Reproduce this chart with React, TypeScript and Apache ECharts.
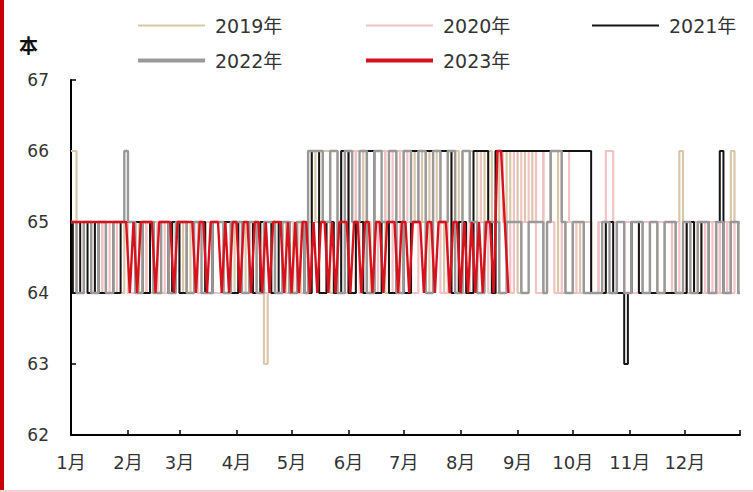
import React, { useEffect, useRef } from "react";
import * as echarts from "echarts";

// Values sampled every 2 days (day-of-year 0, 2, 4, ...)
const y2019 = [
  66, 66, 64, 64, 65, 65, 65, 64, 64, 65,
  65, 65, 64, 64, 64, 65, 65, 65, 65, 64,
  64, 65, 65, 65, 64, 64, 64, 65, 65, 65,
  65, 64, 64, 65, 65, 65, 65, 64, 64, 65,
  65, 65, 64, 64, 64, 65, 65, 65, 64, 64,
  65, 65, 64, 63, 64, 64, 65, 65, 65, 64,
  64, 65, 65, 64, 64, 66, 66, 65, 65, 66,
  66, 64, 64, 65, 66, 66, 64, 64, 66, 66,
  65, 65, 64, 66, 66, 66, 64, 65, 65, 66,
  66, 64, 64, 65, 66, 66, 65, 64, 66, 66,
  65, 65, 64, 64, 66, 66, 65, 64, 64, 66,
  66, 65, 65, 66, 66, 64, 64, 66, 66, 65,
  66, 66, 64, 65, 66, 66, 65, 66, 66, 64,
  65, 66, 66, 64, 64, 65, 65, 64, 64, 65,
  65, 65, 64, 64, 65, 65, 64, 64, 64, 65,
  65, 64, 64, 65, 65, 65, 64, 64, 65, 65,
  64, 64, 65, 65, 64, 65, 66, 65, 64, 64,
  65, 65, 64, 64, 65, 65, 65, 64, 64, 65,
  66, 65, 64,
];
const y2020 = [
  65, 65, 64, 64, 65, 65, 64, 64, 64, 65,
  65, 64, 64, 65, 65, 65, 64, 64, 65, 65,
  65, 64, 64, 64, 65, 65, 64, 64, 65, 65,
  64, 64, 65, 65, 65, 64, 64, 65, 65, 64,
  64, 64, 65, 65, 64, 64, 65, 65, 65, 64,
  64, 65, 65, 64, 64, 64, 65, 65, 64, 64,
  65, 65, 64, 64, 65, 65, 66, 66, 64, 64,
  65, 66, 66, 65, 64, 64, 66, 66, 65, 64,
  64, 66, 66, 64, 65, 65, 66, 66, 64, 64,
  66, 66, 65, 64, 64, 66, 66, 65, 65, 66,
  66, 64, 64, 66, 66, 65, 64, 66, 66, 64,
  65, 65, 66, 66, 64, 64, 66, 66, 65, 65,
  64, 66, 66, 65, 65, 66, 66, 64, 64, 66,
  66, 65, 64, 64, 66, 66, 65, 65, 64, 64,
  65, 65, 64, 64, 65, 65, 66, 66, 65, 64,
  64, 65, 65, 64, 64, 65, 65, 65, 64, 64,
  65, 65, 64, 64, 65, 65, 64, 64, 65, 65,
  65, 64, 64, 65, 65, 64, 64, 65, 65, 64,
  64, 65, 65,
];
const y2021 = [
  65, 64, 64, 65, 65, 64, 64, 65, 64, 64,
  65, 65, 64, 64, 65, 65, 65, 65, 65, 65,
  64, 64, 65, 64, 64, 65, 65, 64, 65, 65,
  64, 64, 65, 65, 65, 65, 65, 64, 64, 65,
  65, 65, 65, 65, 64, 64, 65, 65, 65, 65,
  64, 64, 65, 65, 65, 64, 64, 65, 65, 65,
  64, 64, 65, 65, 64, 64, 66, 66, 64, 64,
  65, 65, 64, 64, 66, 66, 64, 64, 65, 65,
  64, 66, 66, 64, 64, 65, 65, 64, 64, 65,
  65, 64, 64, 66, 66, 66, 66, 66, 66, 66,
  66, 66, 66, 66, 64, 64, 65, 65, 64, 64,
  66, 66, 66, 66, 65, 64, 66, 66, 66, 66,
  66, 66, 66, 66, 66, 66, 66, 66, 66, 66,
  66, 66, 66, 66, 66, 66, 66, 66, 66, 66,
  66, 66, 64, 64, 64, 64, 65, 65, 64, 64,
  64, 63, 64, 65, 65, 64, 64, 64, 64, 64,
  64, 64, 64, 64, 64, 64, 64, 64, 65, 65,
  64, 64, 65, 65, 64, 64, 65, 66, 64, 64,
  65, 65, 64,
];
const y2022 = [
  65, 65, 64, 64, 65, 65, 64, 64, 65, 65,
  64, 64, 65, 65, 65, 66, 65, 65, 64, 64,
  65, 65, 65, 64, 64, 65, 65, 64, 64, 65,
  65, 65, 64, 64, 65, 65, 64, 64, 64, 65,
  65, 65, 64, 64, 65, 65, 65, 64, 64, 65,
  65, 64, 64, 65, 65, 65, 64, 64, 65, 65,
  64, 64, 65, 65, 64, 66, 66, 66, 66, 65,
  65, 66, 66, 64, 64, 66, 66, 65, 65, 66,
  66, 64, 64, 66, 66, 65, 65, 66, 66, 64,
  64, 66, 66, 65, 65, 66, 66, 64, 64, 66,
  66, 65, 65, 66, 66, 64, 64, 66, 66, 65,
  65, 64, 64, 65, 65, 65, 65, 64, 64, 65,
  65, 65, 65, 64, 64, 65, 65, 65, 65, 64,
  65, 66, 66, 66, 65, 64, 64, 65, 65, 65,
  64, 64, 64, 64, 64, 65, 65, 64, 64, 65,
  65, 64, 64, 65, 65, 65, 64, 64, 65, 65,
  64, 64, 65, 65, 65, 64, 64, 65, 65, 64,
  64, 65, 65, 65, 64, 64, 65, 65, 64, 64,
  65, 65, 64,
];
const y2023 = [
  65, 65, 65, 65, 65, 65, 65, 65, 65, 65,
  65, 65, 65, 65, 65, 65, 64, 65, 64, 65,
  65, 65, 65, 64, 65, 65, 65, 65, 64, 65,
  65, 65, 65, 65, 64, 65, 65, 64, 65, 65,
  65, 64, 65, 64, 65, 65, 64, 65, 65, 64,
  65, 65, 64, 65, 64, 65, 65, 65, 64, 65,
  64, 65, 64, 65, 65, 64, 65, 64, 65, 65,
  64, 65, 64, 65, 65, 65, 64, 65, 65, 64,
  65, 65, 64, 65, 65, 64, 65, 65, 65, 64,
  65, 65, 64, 65, 65, 65, 64, 65, 65, 64,
  65, 65, 65, 64, 65, 65, 64, 65, 64, 65,
  64, 65, 64, 65, 65, 64, 66, 66, 65, 64,
];

const seriesNames = ["2019年", "2020年", "2021年", "2022年", "2023年"];
const seriesValues = [y2019, y2020, y2021, y2022, y2023];
const colors = ["#D9C8A8", "#F2C2C4", "#141414", "#999999", "#D7121C"];
const widths = [2.2, 2.2, 2, 2.4, 2.4];
const steps: (string | false)[] = ["middle", "middle", "middle", "middle", false];
const legendThickness = [2, 2, 2, 4, 4];
const monthLabels = ["1月", "2月", "3月", "4月", "5月", "6月", "7月", "8月", "9月", "10月", "11月", "12月"];
const monthDays = [31, 28, 31, 30, 31, 30, 31, 31, 30, 31, 30, 31];
const SAMPLE_STEP = 2;

// day categories of a non-leap year
const days: string[] = [];
const monthStartIndex: Record<number, string> = {};
{
  let idx = 0;
  monthDays.forEach((n, m) => {
    monthStartIndex[idx] = monthLabels[m];
    for (let d = 1; d <= n; d++) {
      days.push(`${m + 1}-${d}`);
      idx++;
    }
  });
}

const FONT = "'DejaVu Sans', 'Noto Sans CJK SC', sans-serif";

export default function App() {
  const ref = useRef<HTMLDivElement>(null);
  useEffect(() => {
    document.body.style.margin = "0";
    const chart = echarts.init(ref.current!, null, { renderer: "svg" });
    const legendPos = [
      { left: 138, top: 16 },
      { left: 366, top: 16 },
      { left: 592, top: 16 },
      { left: 138, top: 51 },
      { left: 366, top: 51 },
    ];
    chart.setOption({
      animation: false,
      backgroundColor: "#ffffff",
      grid: { left: 71, right: 13, top: 80, bottom: 57, containLabel: false },
      legend: seriesNames.map((n, i) => ({
        data: [n],
        left: legendPos[i].left,
        top: legendPos[i].top,
        icon: "rect",
        itemWidth: 67,
        itemHeight: legendThickness[i],
        padding: 0,
        textStyle: { fontSize: 19, color: "#333", fontFamily: FONT, padding: [0, 0, 0, 5] },
      })),
      xAxis: {
        type: "category",
        data: days,
        boundaryGap: false,
        axisLine: { lineStyle: { color: "#000", width: 2 } },
        axisTick: {
          inside: true,
          length: 5,
          lineStyle: { color: "#000", width: 1.5 },
          interval: (i: number) => monthStartIndex[i] !== undefined || i === days.length - 1,
        },
        axisLabel: {
          interval: (i: number) => monthStartIndex[i] !== undefined,
          formatter: (_v: string, i: number) => monthStartIndex[i] ?? "",
          fontSize: 18,
          color: "#333",
          fontFamily: FONT,
          margin: 18,
        },
        splitLine: { show: false },
      },
      yAxis: {
        type: "value",
        min: 62,
        max: 67,
        interval: 1,
        axisLine: { show: true, lineStyle: { color: "#000", width: 2 } },
        axisTick: { show: true, inside: true, length: 5, lineStyle: { color: "#000", width: 1.5 } },
        axisLabel: { fontSize: 17, color: "#333", fontFamily: FONT, margin: 22 },
        splitLine: { show: false },
      },
      graphic: [
        { type: "rect", shape: { x: 0, y: 0, width: 4, height: 492 }, style: { fill: "#C8000C" } },
        { type: "rect", shape: { x: 0, y: 490, width: 753, height: 2 }, style: { fill: "#F4D0D0" } },
        {
          type: "text",
          left: 19,
          top: 36,
          style: { text: "本", fontSize: 19, fontWeight: "bold", fill: "#111", fontFamily: FONT },
        },
      ],
      series: seriesNames.map((n, i) => ({
        name: n,
        type: "line",
        symbol: "none",
        step: steps[i],
        data: seriesValues[i].map((v, k) => [k * SAMPLE_STEP, v]),
        lineStyle: { color: colors[i], width: widths[i] },
        itemStyle: { color: colors[i] },
      })),
    });
    return () => chart.dispose();
  }, []);
  return <div ref={ref} style={{ width: 753, height: 492 }} />;
}
